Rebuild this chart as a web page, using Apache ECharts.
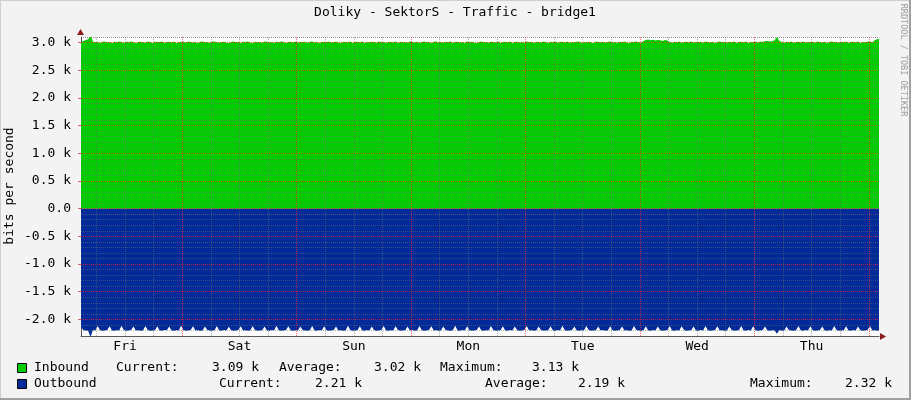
<!DOCTYPE html>
<html><head><meta charset="utf-8">
<script src="https://cdn.jsdelivr.net/npm/echarts@6/dist/echarts.min.js"></script>
<style>html,body{margin:0;padding:0;background:#f3f3f3}#c{width:911px;height:400px}</style>
</head><body><div id="c"></div>
<script>
// ---- data (hours are counted from Friday 00:00 of the displayed week) ----
const title = 'Doliky - SektorS - Traffic - bridge1';
const yName = 'bits per second';
const watermark = 'RRDTOOL / TOBI OETIKER';
const dayNames = ['Fri','Sat','Sun','Mon','Tue','Wed','Thu'];
const dayLabelHours = [12,36,60,84,108,132,156];
const dayLineHours = [24,48,72,96,120,144,168];
const startHour = 2.75;   // first sample
const endHour = 170.15;   // right edge of graph
const stepHours = 0.5;    // sample spacing
const yMin = -2300, yMax = 3100;
const yLabelValues = [-2000,-1500,-1000,-500,0,500,1000,1500,2000,2500,3000];

// Inbound bits/s (30-minute samples)
const inbound = [
3010,3030,3045,3060,3130,3020,3005,3010,2990,3015,3020,3000,3010,2985,3015,3005,
3020,3010,2990,3015,3005,3020,3010,2985,3010,3015,3005,2995,3020,3010,2990,3010,
3015,3005,3020,2990,3010,3015,3000,3020,2985,3010,3005,3015,2995,3020,3010,3000,
3010,2985,3015,3020,3005,3010,2990,3015,3020,3005,2995,3010,3015,3000,2985,3010,
3020,3005,3010,2990,3015,3010,3020,3000,2985,3015,3005,3010,2995,3020,3015,3000,
3010,2990,3015,3005,3020,3010,2985,3010,3015,3000,3020,2995,3010,3005,3015,2990,
3015,3020,3000,3010,2985,3015,3010,3005,3020,2995,3010,3015,3000,2990,3015,3010,
3005,3020,2990,3010,3015,3000,3020,2985,3010,3005,3015,3010,2995,3020,3005,3010,
2990,3015,3010,3000,3020,2985,3015,3005,3010,2995,3020,3010,3000,3015,2990,3010,
3020,3005,3010,2985,3015,3020,3000,3010,2995,3015,3005,3020,2990,3010,3015,3000,
3010,2990,3020,3005,3015,3000,2985,3010,3020,3005,3010,2995,3015,3010,3000,3020,
2990,3010,3015,3005,3020,2985,3010,3015,3000,3010,2995,3020,3005,3015,2990,3010,
3015,3000,3020,3010,2985,3015,3005,3020,2995,3010,3015,3000,3020,2990,3010,3005,
3015,3020,2990,3010,3005,3015,3000,2985,3020,3010,3005,3015,2995,3010,3020,3000,
3010,2990,3015,3005,3020,3000,2985,3015,3010,3020,3005,2995,3030,3045,3055,3040,
3050,3035,3045,3040,3030,3045,3035,3010,2995,3015,3005,3020,2990,3010,3015,3000,
3020,2995,3010,3005,3015,2990,3020,3010,3000,3015,2985,3010,3020,3005,3010,2995,
3015,3005,3020,2990,3010,3015,3000,3020,2985,3010,3005,3015,2995,3020,3010,3025,
3030,3020,3025,3040,3100,3030,3010,2995,3015,3005,3020,2990,3010,3015,3000,3020,
2995,3010,3005,3015,2990,3020,3010,3000,3015,2985,3010,3020,3005,3010,2995,3015,
3005,3020,2990,3010,3015,3000,3020,2985,3010,3005,3015,3020,3000,3040,3060,3070,
3090
];
// Outbound bits/s (30-minute samples, drawn below zero)
const outbound = [
2130,2195,2200,2205,2320,2190,2200,2120,2195,2205,2200,2190,2125,2200,2205,2195,
2200,2115,2195,2205,2200,2190,2130,2200,2195,2205,2200,2120,2190,2205,2200,2195,
2125,2200,2205,2190,2195,2130,2200,2205,2195,2200,2115,2195,2205,2200,2190,2125,
2200,2195,2205,2200,2130,2190,2200,2205,2195,2120,2200,2205,2190,2200,2135,2195,
2205,2200,2190,2125,2200,2195,2205,2200,2120,2190,2205,2200,2195,2130,2200,2205,
2190,2200,2115,2195,2205,2200,2190,2125,2200,2205,2195,2200,2130,2190,2200,2205,
2195,2120,2200,2205,2190,2200,2125,2195,2205,2200,2190,2130,2200,2195,2205,2200,
2115,2190,2205,2200,2195,2125,2200,2205,2190,2200,2130,2195,2205,2200,2190,2120,
2200,2205,2195,2200,2125,2190,2205,2200,2195,2130,2200,2190,2205,2200,2120,2195,
2205,2200,2190,2125,2200,2195,2205,2200,2130,2190,2200,2205,2195,2115,2200,2205,
2190,2200,2125,2195,2205,2200,2190,2130,2200,2205,2195,2200,2120,2190,2205,2200,
2195,2125,2200,2205,2190,2200,2130,2195,2205,2200,2190,2120,2200,2195,2205,2200,
2130,2190,2205,2200,2195,2125,2200,2205,2190,2200,2115,2195,2205,2200,2190,2130,
2200,2205,2195,2200,2120,2190,2205,2200,2195,2130,2200,2190,2205,2200,2125,2195,
2205,2200,2190,2130,2200,2195,2205,2200,2120,2190,2200,2205,2195,2125,2200,2205,
2190,2200,2130,2195,2205,2200,2190,2120,2200,2205,2195,2200,2125,2190,2205,2200,
2195,2130,2200,2205,2190,2200,2120,2195,2205,2200,2190,2125,2200,2195,2205,2200,
2130,2190,2205,2200,2195,2120,2200,2205,2190,2200,2125,2195,2205,2200,2190,2130,
2200,2205,2195,2200,2260,2190,2205,2200,2130,2190,2200,2205,2195,2120,2200,2205,
2190,2200,2125,2195,2205,2200,2190,2130,2200,2205,2195,2200,2120,2190,2205,2200,
2195,2125,2200,2205,2190,2200,2130,2195,2205,2200,2190,2120,2200,2195,2205,2200,
2210
];
const legendNames = ['Inbound','Outbound'];
const legendColors = ['#00CC00','#002A97'];
const currentVals = ['3.09 k','2.21 k'];
const averageVals = ['3.02 k','2.19 k'];
const maximumVals = ['3.13 k','2.32 k'];

// ---- build ----
const inData = inbound.map((v,i)=>[startHour + i*stepHours, v]);
const outData = outbound.map((v,i)=>[startHour + i*stepHours, -v]);

const minorX = [], minorY = [];
for (let h = 6; h < endHour; h += 6) if (h % 24 !== 0) minorX.push(h);
for (let v = -2300; v <= 3100; v += 100) if (v % 500 !== 0) minorY.push(v);

const G = {left:81, top:37, width:798, height:299};
const FONT = '"DejaVu Sans Mono", monospace';
const chart = echarts.init(document.getElementById('c'), null, {renderer:'canvas'});

const dotted = (c)=>({color:c, width:1, type:[1,1], opacity:1});
const minorC = 'rgba(110,110,110,0.5)';
const majorC = 'rgba(255,30,30,0.65)';

function txt(x,y,text,extra){
  return Object.assign({type:'text', x:x, y:y, z:100, silent:true,
    style:Object.assign({text:text, fill:'#000', fontSize:13, fontFamily:FONT, align:'left', verticalAlign:'middle'}, (extra||{}))});
}

const graphics = [
  {type:'line', z:100, shape:{x1:0,y1:0.5,x2:911,y2:0.5}, style:{stroke:'#cfcfcf',lineWidth:1}},
  {type:'line', z:100, shape:{x1:0.5,y1:0,x2:0.5,y2:400}, style:{stroke:'#cfcfcf',lineWidth:1}},
  {type:'line', z:100, shape:{x1:910,y1:0,x2:910,y2:400}, style:{stroke:'#a0a0a0',lineWidth:2}},
  {type:'line', z:100, shape:{x1:0,y1:399,x2:911,y2:399}, style:{stroke:'#a0a0a0',lineWidth:2}},
  txt(455, 13, title, {align:'center'}),
  Object.assign(txt(10, 186, yName, {align:'center'}), {rotation: Math.PI/2}),
  Object.assign(txt(903, 60, watermark, {align:'center', fontSize:8.5, fill:'#a0a0a0'}), {rotation: -Math.PI/2}),
  // axis arrows
  {type:'polygon', z:100, shape:{points:[[77,35],[84,35],[80.5,29]]}, style:{fill:'#8b1a1a'}},
  {type:'polygon', z:100, shape:{points:[[880,333],[880,340],[886,336.5]]}, style:{fill:'#8b1a1a'}}
];
const rowY = [368, 384];
const rowX = [
  {cur:116, curV:212, avg:279, avgV:374, max:440, maxV:532},
  {cur:219, curV:315, avg:485, avgV:578, max:750, maxV:845}
];
legendNames.forEach((n,k)=>{
  const y = rowY[k], p = rowX[k];
  graphics.push({type:'rect', z:100, shape:{x:17.5, y:y-4.5, width:9, height:9}, style:{fill:legendColors[k], stroke:'#000', lineWidth:1}});
  graphics.push(txt(34, y, n));
  graphics.push(txt(p.cur, y, 'Current:'));
  graphics.push(txt(p.curV, y, currentVals[k]));
  graphics.push(txt(p.avg, y, 'Average:'));
  graphics.push(txt(p.avgV, y, averageVals[k]));
  graphics.push(txt(p.max, y, 'Maximum:'));
  graphics.push(txt(p.maxV, y, maximumVals[k]));
});

chart.setOption({
  animation:false,
  backgroundColor:'#f3f3f3',
  grid:{left:G.left, top:G.top, width:G.width, height:G.height, show:true, backgroundColor:'#ffffff', borderWidth:0},
  xAxis:{
    type:'value', min:startHour, max:endHour,
    axisLine:{onZero:false, lineStyle:{color:'#505050', width:1}},
    axisTick:{show:false},
    splitLine:{show:false},
    axisLabel:{customValues:dayLabelHours, margin:4, color:'#000', fontSize:13, fontFamily:FONT,
      formatter:(v)=>dayNames[dayLabelHours.indexOf(v)]}
  },
  yAxis:{
    type:'value', min:yMin, max:yMax,
    axisLine:{show:true, lineStyle:{color:'#505050', width:1}},
    axisTick:{show:true, customValues:yLabelValues, length:3, lineStyle:{color:'#e06060'}},
    splitLine:{show:false},
    axisLabel:{customValues:yLabelValues, margin:10, color:'#000', fontSize:13, fontFamily:FONT,
      formatter:(v)=> v===0 ? '0.0' : (v/1000).toFixed(1)+' k'}
  },
  graphic:graphics,
  series:[
    {name:'Inbound', type:'line', data:inData, showSymbol:false, symbol:'none', z:2,
      lineStyle:{width:0}, areaStyle:{color:legendColors[0], opacity:1}, itemStyle:{color:legendColors[0]}},
    {name:'Outbound', type:'line', data:outData, showSymbol:false, symbol:'none', z:2,
      lineStyle:{width:0}, areaStyle:{color:legendColors[1], opacity:1}, itemStyle:{color:legendColors[1]}},
    {name:'grid', type:'line', data:[], z:5, silent:true,
      markLine:{silent:true, symbol:['none','none'], label:{show:false}, animation:false,
        data:[].concat(
          minorX.map(h=>({xAxis:h, lineStyle:dotted(minorC)})),
          minorY.map(v=>({yAxis:v, lineStyle:dotted(minorC)})),
          dayLineHours.filter(h=>h<endHour).map(h=>({xAxis:h, lineStyle:dotted(majorC)})),
          yLabelValues.map(v=>({yAxis:v, lineStyle:dotted(majorC)})),
          [{yAxis:yMax, lineStyle:dotted(minorC)}]
        )}}
  ]
});
</script></body></html>
